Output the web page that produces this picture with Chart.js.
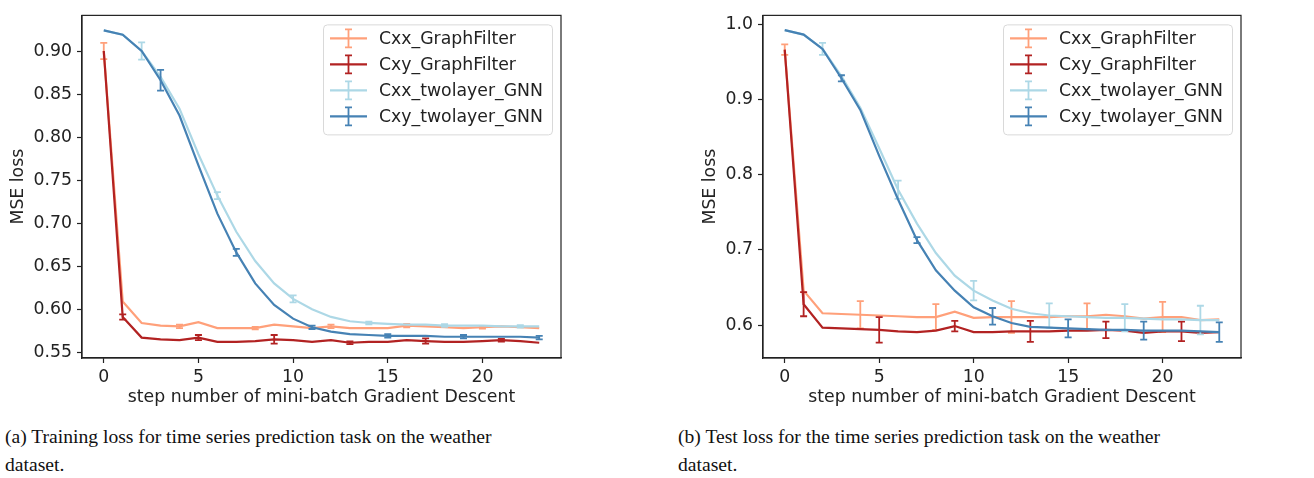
<!DOCTYPE html>
<html>
<head>
<meta charset="utf-8">
<script src="https://cdn.jsdelivr.net/npm/chart.js@4.4.1/dist/chart.umd.min.js"></script>
<style>
  body { margin: 0; background: #fff; width: 1314px; height: 478px; overflow: hidden; position: relative; }
  .box { position: absolute; top: 0; height: 413px; }
  .cap { position: absolute; top: 423px; font-family: "Liberation Serif", serif; font-size: 19.6px; line-height: 28px; color: #111; white-space: nowrap; }
</style>
</head>
<body>
<div class="box" style="left:0;width:600px"><canvas id="trainChart"></canvas></div>
<div class="box" style="left:660px;width:620px"><canvas id="testChart"></canvas></div>
<div class="cap" style="left:5px">(a) Training loss for time series prediction task on the weather<br>dataset.</div>
<div class="cap" style="left:678px">(b) Test loss for the time series prediction task on the weather<br>dataset.</div>
<script>
'use strict';

const steps = [0, 1, 2, 3, 4, 5, 6, 7, 8, 9, 10, 11, 12, 13, 14, 15, 16, 17, 18, 19, 20, 21, 22, 23];
const xTicks = [0, 5, 10, 15, 20];
const trainYTicks = [0.55, 0.60, 0.65, 0.70, 0.75, 0.80, 0.85, 0.90];
const testYTicks = [0.6, 0.7, 0.8, 0.9, 1.0];
const seriesNames = ['Cxx_GraphFilter', 'Cxy_GraphFilter', 'Cxx_twolayer_GNN', 'Cxy_twolayer_GNN'];

// training loss
const trainCxxGF = [0.900, 0.609, 0.584, 0.581, 0.580, 0.585, 0.578, 0.578, 0.578, 0.582, 0.580, 0.578, 0.580, 0.578, 0.578, 0.578, 0.581, 0.580, 0.579, 0.578, 0.579, 0.580, 0.579, 0.578];
const trainCxyGF = [0.900, 0.591, 0.567, 0.565, 0.564, 0.567, 0.562, 0.562, 0.563, 0.565, 0.564, 0.562, 0.564, 0.561, 0.562, 0.562, 0.564, 0.563, 0.562, 0.562, 0.563, 0.564, 0.563, 0.561];
const trainCxxGNN = [0.924, 0.919, 0.900, 0.870, 0.833, 0.780, 0.732, 0.690, 0.656, 0.630, 0.612, 0.600, 0.591, 0.586, 0.584, 0.583, 0.582, 0.582, 0.581, 0.581, 0.581, 0.580, 0.580, 0.580];
const trainCxyGNN = [0.924, 0.919, 0.900, 0.866, 0.825, 0.767, 0.711, 0.666, 0.630, 0.605, 0.589, 0.579, 0.574, 0.571, 0.570, 0.569, 0.569, 0.569, 0.568, 0.568, 0.568, 0.568, 0.568, 0.567];
// half widths of the error bars (every 4th step)
const trainErrCxxGF = [0.0095, null, null, null, 0.002, null, null, null, 0.0015, null, null, null, 0.002, null, null, null, 0.002, null, null, null, 0.0015, null, null, null];
const trainErrCxyGF = [null, 0.003, null, null, null, 0.003, null, null, null, 0.005, null, null, null, 0.0015, null, null, null, 0.003, null, null, null, 0.0015, null, null];
const trainErrCxxGNN = [null, null, 0.010, null, null, null, 0.004, null, null, null, 0.004, null, null, null, 0.0015, null, null, null, 0.0015, null, null, null, 0.0015, null];
const trainErrCxyGNN = [null, null, null, 0.012, null, null, null, 0.004, null, null, null, 0.002, null, null, null, 0.002, null, null, null, 0.002, null, null, null, 0.002];

// test loss
const testCxxGF = [0.966, 0.646, 0.616, 0.615, 0.614, 0.613, 0.612, 0.611, 0.611, 0.618, 0.610, 0.611, 0.611, 0.611, 0.611, 0.612, 0.612, 0.614, 0.612, 0.609, 0.611, 0.611, 0.607, 0.608];
const testCxyGF = [0.966, 0.628, 0.597, 0.596, 0.595, 0.594, 0.592, 0.591, 0.593, 0.599, 0.591, 0.591, 0.592, 0.592, 0.592, 0.593, 0.593, 0.594, 0.593, 0.590, 0.592, 0.592, 0.590, 0.591];
const testCxxGNN = [0.992, 0.986, 0.967, 0.931, 0.889, 0.835, 0.780, 0.735, 0.696, 0.666, 0.646, 0.633, 0.622, 0.616, 0.613, 0.612, 0.611, 0.610, 0.610, 0.609, 0.608, 0.608, 0.607, 0.607];
const testCxyGNN = [0.992, 0.986, 0.967, 0.928, 0.886, 0.825, 0.767, 0.713, 0.673, 0.646, 0.624, 0.612, 0.603, 0.598, 0.597, 0.596, 0.595, 0.594, 0.594, 0.593, 0.593, 0.593, 0.592, 0.591];
const testErrCxxGF = [0.007, null, null, null, 0.018, null, null, null, 0.017, null, null, null, 0.021, null, null, null, 0.017, null, null, null, 0.020, null, null, null];
const testErrCxyGF = [null, 0.016, null, null, null, 0.017, null, null, null, 0.007, null, null, null, 0.014, null, null, null, 0.011, null, null, null, 0.013, null, null];
const testErrCxxGNN = [null, null, 0.008, null, null, null, 0.012, null, null, null, 0.013, null, null, null, 0.016, null, null, null, 0.018, null, null, null, 0.019, null];
const testErrCxyGNN = [null, null, null, 0.004, null, null, null, 0.004, null, null, null, 0.011, null, null, null, 0.012, null, null, null, 0.012, null, null, null, 0.013];

const colors = ['#FFA07A', '#B22222', '#ADD8E6', '#4682B4'];
const fontFamily = '"DejaVu Sans", sans-serif';
const fontSize = 17.3;
const textColor = '#222';

// matplotlib style error bars, drawn right after each line so layering matches
const errorBars = {
  id: 'errorBars',
  afterDatasetDraw(chart, args) {
    let ds = chart.data.datasets[args.index];
    if (!ds.errors) return;
    let xs = chart.scales.x;
    let ys = chart.scales.y;
    let ctx = chart.ctx;
    ctx.save();
    ctx.strokeStyle = ds.borderColor;
    ctx.lineWidth = 1.8;
    ds.data.forEach((p, i) => {
      let e = ds.errors[i];
      if (e == null) return;
      let px = xs.getPixelForValue(p.x);
      let top = ys.getPixelForValue(p.y + e);
      let bot = ys.getPixelForValue(p.y - e);
      ctx.beginPath();
      ctx.moveTo(px, top); ctx.lineTo(px, bot);
      ctx.moveTo(px - 3.5, top); ctx.lineTo(px + 3.5, top);
      ctx.moveTo(px - 3.5, bot); ctx.lineTo(px + 3.5, bot);
      ctx.stroke();
    });
    ctx.restore();
  }
};

// box around the axes and a legend in the upper right corner
const frameLegend = {
  id: 'frameLegend',
  afterDraw(chart) {
    let ctx = chart.ctx;
    let a = chart.chartArea;
    ctx.save();
    ctx.strokeStyle = textColor;
    ctx.lineWidth = 1.2;
    ctx.strokeRect(a.left, a.top, a.right - a.left, a.bottom - a.top);

    let w = 229, h = 110;
    let bx = a.right - 9 - w, by = a.top + 9;
    ctx.beginPath();
    ctx.roundRect(bx + 0.5, by + 0.5, w, h, 4);
    ctx.fillStyle = 'rgba(255,255,255,0.85)';
    ctx.fill();
    ctx.strokeStyle = '#d9d9d9';
    ctx.lineWidth = 1;
    ctx.stroke();

    ctx.font = fontSize + 'px ' + fontFamily;
    ctx.textBaseline = 'middle';
    chart.data.datasets.forEach((ds, i) => {
      let yy = by + 14 + i * 26;
      let x0 = bx + 7, x1 = bx + 44, xm = (x0 + x1) / 2;
      ctx.strokeStyle = ds.borderColor;
      ctx.lineWidth = 2.2;
      ctx.beginPath();
      ctx.moveTo(x0, yy); ctx.lineTo(x1, yy);
      ctx.stroke();
      ctx.lineWidth = 1.8;
      ctx.beginPath();
      ctx.moveTo(xm, yy - 9); ctx.lineTo(xm, yy + 9);
      ctx.moveTo(xm - 3.5, yy - 9); ctx.lineTo(xm + 3.5, yy - 9);
      ctx.moveTo(xm - 3.5, yy + 9); ctx.lineTo(xm + 3.5, yy + 9);
      ctx.stroke();
      ctx.fillStyle = textColor;
      ctx.fillText(ds.label, bx + 56, yy + 1);
    });
    ctx.restore();
  }
};

function makeDatasets(values, errors) {
  return values.map((vals, i) => ({
    label: seriesNames[i],
    data: steps.map((s, j) => ({ x: s, y: vals[j] })),
    errors: errors[i],
    borderColor: colors[i],
    backgroundColor: colors[i],
    borderWidth: 2.2,
    pointRadius: 0,
    tension: 0,
    order: 3 - i
  }));
}

function makeScales(yMin, yMax, yTicks, digits, axisWidth, titlePad) {
  let tickFont = { family: fontFamily, size: fontSize };
  return {
    x: {
      type: 'linear',
      min: -1.15,
      max: 24.15,
      afterBuildTicks: s => { s.ticks = xTicks.map(v => ({ value: v })); },
      afterFit: s => { s.height = 55; },
      grid: { drawOnChartArea: false, tickLength: 5, tickColor: textColor, tickWidth: 1.2 },
      border: { color: textColor, width: 1.2 },
      ticks: { color: textColor, font: tickFont, padding: 4, maxRotation: 0, autoSkip: false, callback: v => String(v) },
      title: { display: true, text: 'step number of mini-batch Gradient Descent', color: textColor, font: tickFont, padding: { top: 0, bottom: 4.8 } }
    },
    y: {
      type: 'linear',
      min: yMin,
      max: yMax,
      afterBuildTicks: s => { s.ticks = yTicks.map(v => ({ value: v })); },
      afterFit: s => { s.width = axisWidth; },
      grid: { drawOnChartArea: false, tickLength: 5, tickColor: textColor, tickWidth: 1.2 },
      border: { color: textColor, width: 1.2 },
      ticks: { color: textColor, font: tickFont, padding: 5, autoSkip: false, callback: v => v.toFixed(digits) },
      title: { display: true, text: 'MSE loss', color: textColor, font: tickFont, padding: { top: titlePad, bottom: 0 } }
    }
  };
}

function renderChart(id, values, errors, scales, padRight) {
  let ctx = document.getElementById(id).getContext('2d');
  return new Chart(ctx, {
    type: 'line',
    data: { datasets: makeDatasets(values, errors) },
    options: {
      responsive: true,
      maintainAspectRatio: false,
      animation: false,
      layout: { padding: { top: 2, right: padRight, left: 0, bottom: 0 } },
      scales: scales,
      plugins: { legend: { display: false }, tooltip: { enabled: false } }
    },
    plugins: [errorBars, frameLegend]
  });
}

renderChart('trainChart',
  [trainCxxGF, trainCxyGF, trainCxxGNN, trainCxyGNN],
  [trainErrCxxGF, trainErrCxyGF, trainErrCxxGNN, trainErrCxyGNN],
  makeScales(0.5433, 0.9414, trainYTicks, 2, 82, 8), 39);

renderChart('testChart',
  [testCxxGF, testCxyGF, testCxxGNN, testCxyGNN],
  [testErrCxxGF, testErrCxyGF, testErrCxxGNN, testErrCxyGNN],
  makeScales(0.5566, 1.0115, testYTicks, 1, 103, 40), 39);
</script>
</body>
</html>
